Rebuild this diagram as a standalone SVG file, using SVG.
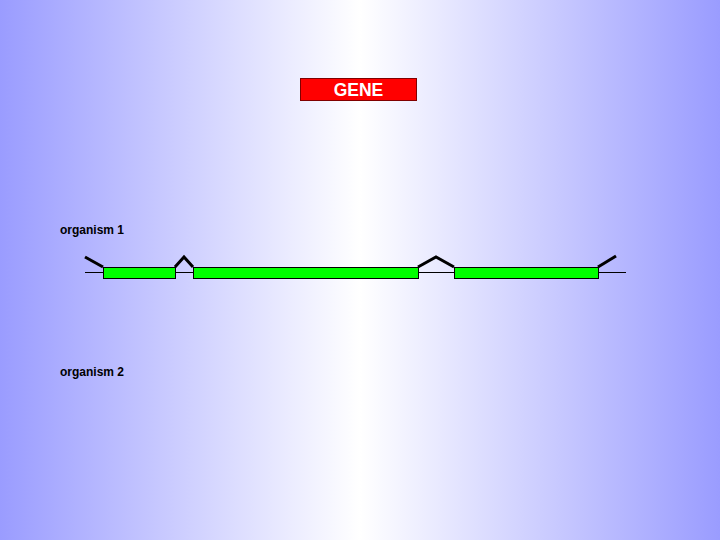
<svg xmlns="http://www.w3.org/2000/svg" width="720" height="540" viewBox="0 0 720 540">
<defs>
<linearGradient id="bg" x1="0" y1="0" x2="1" y2="0">
<stop offset="0" stop-color="#9a9cff"/>
<stop offset="0.5" stop-color="#ffffff"/>
<stop offset="1" stop-color="#9a9cff"/>
</linearGradient>
<style>
.lbl{font-family:"Liberation Sans",Arial,sans-serif;font-size:12px;font-weight:bold;fill:#000}
.exon{fill:#00ff00;stroke:#000;stroke-width:1}
.caret{fill:none;stroke:#000;stroke-width:3}
.base{stroke:#000;stroke-width:1}
</style>
</defs>
<rect width="720" height="540" fill="url(#bg)"/>
<g id="gene">
<rect x="300.5" y="78.5" width="116" height="22" fill="#ff0000" stroke="#800000" stroke-width="1"/>
<text x="358.5" y="95.5" text-anchor="middle" font-family="Liberation Sans,Arial,sans-serif" font-size="17.5" font-weight="bold" fill="#fff">GENE</text>
</g>
<text class="lbl" x="60" y="234">organism 1</text>
<text class="lbl" x="60" y="376">organism 2</text>
<g id="connectors">
<line class="base" x1="85" y1="272.5" x2="626" y2="272.5"/>
<polyline class="caret" points="85,257 103,267"/>
<polyline class="caret" points="175,267 184,257 193,267"/>
<polyline class="caret" points="418,267 436,257 454,267"/>
<polyline class="caret" points="598,267 616,256"/>
</g>
<g id="exon1"><rect class="exon" x="103.5" y="267.5" width="72" height="11"/></g>
<g id="exon2"><rect class="exon" x="193.5" y="267.5" width="225" height="11"/></g>
<g id="exon3"><rect class="exon" x="454.5" y="267.5" width="144" height="11"/></g>
</svg>
